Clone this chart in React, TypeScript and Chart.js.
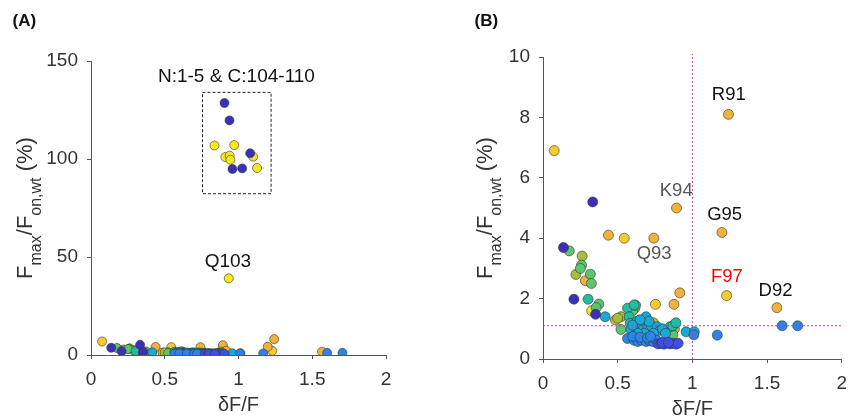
import React, { useEffect, useRef } from 'react';
import { Chart, registerables } from 'chart.js';
Chart.register(...registerables);

const FONT = "'Liberation Sans', Arial, Helvetica, sans-serif";

// ---- colour groups (position colormap) ----
const darkBlueX = [0.333, 0.137, 0.207, 0.352, 0.905, 0.939, 1.079, 0.959, 1.025];
const darkBlueY = [5.2, 3.69, 1.98, 1.48, 128.6, 119.7, 102.9, 94.9, 95.2];

const royalX = [0.77, 0.79, 0.81, 0.83, 0.85, 0.87, 0.89, 0.905, 0.8, 0.84];
const royalY = [0.5, 0.52, 0.49, 0.53, 0.5, 0.52, 0.49, 0.52, 0.55, 0.55];

const blueX = [1.601, 1.705, 1.167, 1.01, 0.566, 0.61, 0.635, 0.66, 0.69, 0.715, 0.74, 0.76, 0.6, 0.65, 0.7, 0.72];
const blueY = [1.1, 1.1, 0.79, 0.8, 0.68, 0.62, 0.58, 0.62, 0.58, 0.6, 0.57, 0.62, 0.75, 0.72, 0.7, 0.75];

const cyanX = [0.416, 0.69, 0.958, 1.013, 0.588, 0.62, 0.645, 0.665, 0.7, 0.725, 0.764, 0.785, 0.74, 0.68, 0.635, 0.8, 0.82, 0.6, 0.71, 0.65];
const cyanY = [1.4, 1.4, 0.9, 0.9, 0.98, 1.05, 1.1, 0.95, 1.0, 1.1, 1.07, 0.95, 0.85, 0.85, 0.85, 1.0, 0.85, 1.12, 1.25, 1.3];

const tealX = [0.302, 0.566, 0.577, 0.61, 0.584, 0.853, 0.87, 0.89, 0.63, 0.6, 0.675];
const tealY = [1.98, 1.68, 1.4, 1.79, 1.18, 1.07, 1.1, 1.2, 1.25, 1.05, 1.15];

const greenX = [0.176, 0.258, 0.25, 0.317, 0.324, 0.374, 0.356, 0.522, 0.6, 0.87, 0.62];
const greenY = [3.58, 3.11, 3.0, 2.81, 2.5, 1.82, 1.7, 0.98, 1.6, 0.8, 1.78];

const oliveX = [0.262, 0.22, 0.522, 0.654, 0.841, 0.88, 0.5];
const oliveY = [3.41, 2.8, 1.4, 0.96, 0.85, 1.0, 1.35];

const mustardX = [0.485, 0.72, 0.73, 0.75, 0.665, 0.74];
const mustardY = [1.29, 0.9, 1.18, 1.1, 0.98, 1.2];

const orangeX = [1.242, 0.894, 1.198, 0.742, 1.566, 0.916, 0.877, 0.284, 0.615, 0.438];
const orangeY = [8.1, 5.0, 4.19, 4.0, 1.7, 2.19, 1.81, 2.59, 1.68, 4.1];

const goldenX = [1.229, 0.753, 0.544, 0.075];
const goldenY = [2.1, 1.81, 4.0, 6.9];

const yellowX = [0.326, 0.934, 0.837, 0.971, 0.911, 0.94, 0.945, 1.099, 1.126];
const yellowY = [1.6, 39.1, 106.9, 107.1, 101.0, 101.7, 99.6, 101.2, 95.4];

// ---- axes ----
const xTicksStep = 0.5;
const xMin = 0;
const xMax = 2;
const yMaxA = 150;
const yStepA = 50;
const yMaxB = 10;
const yStepB = 2;

// ---- annotations ----
const boxA = { x0: 0.756, x1: 1.221, y0: 82.3, y1: 134 };
const labelsA = [
  { text: 'N:1-5 & C:104-110', x: 0.986, y: 142.1, color: '#111' },
  { text: 'Q103', x: 0.928, y: 47.8, color: '#111' },
];
const labelsB = [
  { text: 'R91', x: 1.244, y: 8.74, color: '#111' },
  { text: 'K94', x: 0.892, y: 5.57, color: '#555' },
  { text: 'G95', x: 1.216, y: 4.76, color: '#111' },
  { text: 'Q93', x: 0.744, y: 3.47, color: '#555' },
  { text: 'F97', x: 1.231, y: 2.72, color: '#ff0000' },
  { text: 'D92', x: 1.557, y: 2.25, color: '#111' },
];
const thresholdX = 1;
const thresholdY = 1.1;

// draw order: bottom first
const groups = [
  { color: '#3f4fe3', xs: royalX, ys: royalY },
  { color: '#2b85e6', xs: blueX, ys: blueY },
  { color: '#3c30b8', xs: darkBlueX, ys: darkBlueY },
  { color: '#17aad6', xs: cyanX, ys: cyanY },
  { color: '#25baa2', xs: tealX, ys: tealY },
  { color: '#5ec56c', xs: greenX, ys: greenY },
  { color: '#a6be3c', xs: oliveX, ys: oliveY },
  { color: '#d2b72e', xs: mustardX, ys: mustardY },
  { color: '#f1b23a', xs: orangeX, ys: orangeY },
  { color: '#f6cc2a', xs: goldenX, ys: goldenY },
  { color: '#f3e91c', xs: yellowX, ys: yellowY },
];

function makeDatasets(radius: number) {
  return groups.map((g) => ({
    type: 'scatter' as const,
    data: g.xs.map((x, i) => ({ x, y: g.ys[i] })),
    backgroundColor: g.color,
    borderColor: 'rgba(50,50,50,0.85)',
    borderWidth: 0.7,
    pointRadius: radius,
    pointHoverRadius: radius,
  }));
}

function drawYTitle(ctx: CanvasRenderingContext2D, baseX: number, cy: number) {
  const main = `22px ${FONT}`;
  const sub = `16px ${FONT}`;
  const segs = [
    { t: 'F', f: main, dy: 0 },
    { t: 'max', f: sub, dy: 9 },
    { t: '/F', f: main, dy: 0 },
    { t: 'on,wt', f: sub, dy: 9 },
    { t: ' (%)', f: main, dy: 0 },
  ];
  ctx.save();
  ctx.translate(baseX, cy);
  ctx.rotate(-Math.PI / 2);
  ctx.fillStyle = '#333';
  ctx.textBaseline = 'alphabetic';
  ctx.textAlign = 'left';
  let total = 0;
  for (const s of segs) {
    ctx.font = s.f;
    total += ctx.measureText(s.t).width;
  }
  let x = -total / 2;
  for (const s of segs) {
    ctx.font = s.f;
    ctx.fillText(s.t, x, s.dy);
    x += ctx.measureText(s.t).width;
  }
  ctx.restore();
}

function axisCfg(min: number, max: number, step: number, fit: (s: any) => void, title?: any) {
  return {
    type: 'linear' as const,
    min,
    max,
    ticks: {
      stepSize: step,
      color: '#333',
      font: { size: 19, family: FONT },
      padding: 9,
      callback: (v: any) => `${Number(v)}`,
    },
    grid: { display: true, drawOnChartArea: false, drawTicks: true, tickLength: 4, tickColor: '#555' },
    border: { display: true, color: '#555', width: 1 },
    title: title || { display: false },
    afterFit: fit,
  };
}

function buildChart(canvas: HTMLCanvasElement, panel: 'A' | 'B') {
  const isA = panel === 'A';
  const plugin = {
    id: 'decor' + panel,
    afterDatasetsDraw(chart: any) {
      const ctx: CanvasRenderingContext2D = chart.ctx;
      const xs = chart.scales.x;
      const ys = chart.scales.y;
      ctx.save();
      if (isA) {
        ctx.strokeStyle = '#222';
        ctx.lineWidth = 1;
        ctx.setLineDash([3, 2]);
        const l = xs.getPixelForValue(boxA.x0);
        const r = xs.getPixelForValue(boxA.x1);
        const t = ys.getPixelForValue(boxA.y1);
        const b = ys.getPixelForValue(boxA.y0);
        ctx.strokeRect(l, t, r - l, b - t);
        ctx.setLineDash([]);
      } else {
        ctx.strokeStyle = '#b03cb0';
        ctx.lineWidth = 1;
        ctx.setLineDash([2, 2]);
        const vx = xs.getPixelForValue(thresholdX);
        ctx.beginPath();
        ctx.moveTo(vx, ys.getPixelForValue(0));
        ctx.lineTo(vx, chart.chartArea.top - 3);
        ctx.stroke();
        const hy = ys.getPixelForValue(thresholdY);
        ctx.beginPath();
        ctx.moveTo(xs.getPixelForValue(xMin), hy);
        ctx.lineTo(xs.getPixelForValue(xMax), hy);
        ctx.stroke();
        ctx.setLineDash([]);
      }
      const labels = isA ? labelsA : labelsB;
      ctx.textAlign = 'center';
      ctx.textBaseline = 'middle';
      ctx.font = `${isA ? 19 : 18.5}px ${FONT}`;
      for (const lb of labels) {
        ctx.fillStyle = lb.color;
        ctx.fillText(lb.text, xs.getPixelForValue(lb.x), ys.getPixelForValue(lb.y));
      }
      ctx.restore();
    },
    afterDraw(chart: any) {
      const ctx: CanvasRenderingContext2D = chart.ctx;
      const ca = chart.chartArea;
      drawYTitle(ctx, isA ? 31.7 : 63.7, (ca.top + ca.bottom) / 2);
      ctx.save();
      ctx.fillStyle = '#111';
      ctx.font = `bold 17px ${FONT}`;
      ctx.textAlign = 'left';
      ctx.textBaseline = 'middle';
      ctx.fillText(isA ? '(A)' : '(B)', isA ? 12.5 : 46.5, 21.5);
      ctx.restore();
    },
  };

  return new Chart(canvas, {
    type: 'scatter',
    data: { datasets: makeDatasets(isA ? 4.5 : 5) as any },
    options: {
      responsive: false,
      animation: false,
      devicePixelRatio: 1,
      layout: { padding: isA ? { top: 61, right: 42, left: 0, bottom: 0 } : { top: 57, right: 11, left: 0, bottom: 0 } },
      plugins: { legend: { display: false }, tooltip: { enabled: false } },
      scales: {
        x: axisCfg(xMin, xMax, xTicksStep, (s: any) => { s.height = isA ? 64 : 60; }, {
          display: true,
          text: 'δF/F',
          color: '#333',
          font: { size: 20, family: FONT, lineHeight: 1 },
          padding: { top: 0, bottom: isA ? 4 : 0 },
        }),
        y: axisCfg(0, isA ? yMaxA : yMaxB, isA ? yStepA : yStepB, (s: any) => { s.width = isA ? 91 : 115; }),
      },
    } as any,
    plugins: [plugin],
  });
}

export default function App() {
  const refA = useRef<HTMLCanvasElement>(null);
  const refB = useRef<HTMLCanvasElement>(null);
  useEffect(() => {
    const a = buildChart(refA.current!, 'A');
    const b = buildChart(refB.current!, 'B');
    return () => {
      a.destroy();
      b.destroy();
    };
  }, []);
  return (
    <div style={{ position: 'absolute', left: 0, top: 0, width: 856, height: 419, display: 'flex', background: '#fff' }}>
      <canvas ref={refA} width={428} height={419} style={{ display: 'block', width: 428, height: 419 }} />
      <canvas ref={refB} width={428} height={419} style={{ display: 'block', width: 428, height: 419 }} />
    </div>
  );
}
